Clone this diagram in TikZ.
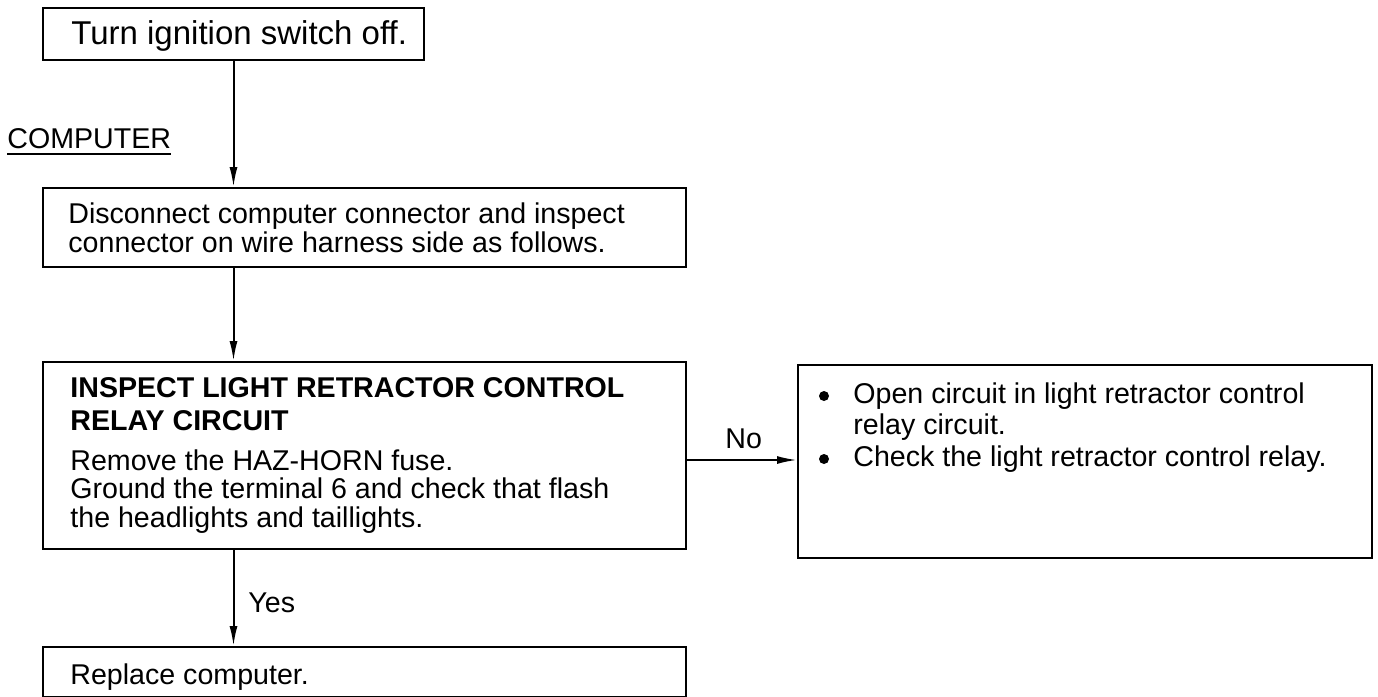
\documentclass[tikz,border=0pt]{standalone}
\usepackage{fontspec}
\setmainfont{Liberation Sans}
\usetikzlibrary{arrows.meta}
\begin{document}
\begin{tikzpicture}[x=0.5pt,y=-0.5pt,
  box/.style={draw, line width=1pt, inner sep=0, anchor=north west},
  txt/.style={inner sep=0, anchor=base west, font=\fontsize{14.3pt}{16pt}\selectfont},
  bigtxt/.style={inner sep=0, anchor=base west, font=\fontsize{16.5pt}{18pt}\selectfont},
  bul/.style={circle, fill, inner sep=0, minimum size=5pt},
  arr/.style={line width=1pt, -{Latex[length=10pt,width=4pt]}},
  lbl/.style={inner sep=0, anchor=base west, font=\fontsize{14.3pt}{16pt}\selectfont},
]
\useasboundingbox (0,0) rectangle (1378,697);
% boxes
\node[box, minimum width=190.5pt, minimum height=26pt] (b1) at (42,7) {};
\node[box, minimum width=321.5pt, minimum height=39.5pt] (b2) at (42,187) {};
\node[box, minimum width=321.5pt, minimum height=93.5pt] (b3) at (42,361) {};
\node[box, minimum width=321.5pt, minimum height=25pt] (b4) at (42,646) {};
\node[box, minimum width=287pt, minimum height=96.5pt] (r) at (797,364) {};
% texts
\node[bigtxt] (t1) at (71,44) {Turn ignition switch off.};
\node[txt] (cmp) at (7,148) {COMPUTER};
\draw[line width=0.8pt] ([yshift=-3pt]cmp.base west) -- ([yshift=-3pt]cmp.base east);
\node[txt] (t2a) at (68,223) {Disconnect computer connector and inspect};
\node[txt] (t2b) at (68,252) {connector on wire harness side as follows.};
\node[txt, font=\fontsize{14.3pt}{16pt}\selectfont\bfseries] (t3a) at (70,397) {INSPECT LIGHT RETRACTOR CONTROL};
\node[txt, font=\fontsize{14.3pt}{16pt}\selectfont\bfseries] (t3b) at (70,430) {RELAY CIRCUIT};
\node[txt] (t3c) at (70,470) {Remove the HAZ-HORN fuse.};
\node[txt] (t3d) at (70,498) {Ground the terminal 6 and check that flash};
\node[txt] (t3e) at (70,527) {the headlights and taillights.};
\node[txt] (t4) at (70,684) {Replace computer.};
\node[bul] (u1) at (824,396) {};
\node[bul] (u2) at (824,459) {};
\node[txt] (r1) at (853,403) {Open circuit in light retractor control};
\node[txt] (r2) at (853,434) {relay circuit.};
\node[txt] (r3) at (853,466) {Check the light retractor control relay.};
% connectors
\coordinate (noy) at (0,460);
\draw[arr] (b1.south) -- (b2.north -| b1.south);
\draw[arr] (b2.south -| b1.south) -- (b3.north -| b1.south);
\draw[arr] (b3.south -| b1.south) -- (b4.north -| b1.south);
\draw[arr] (b3.east |- noy) -- (r.west |- noy);
\node[lbl] (no) at (725,448) {No};
\node[lbl] (yes) at (248,612) {Yes};
\end{tikzpicture}
\end{document}
